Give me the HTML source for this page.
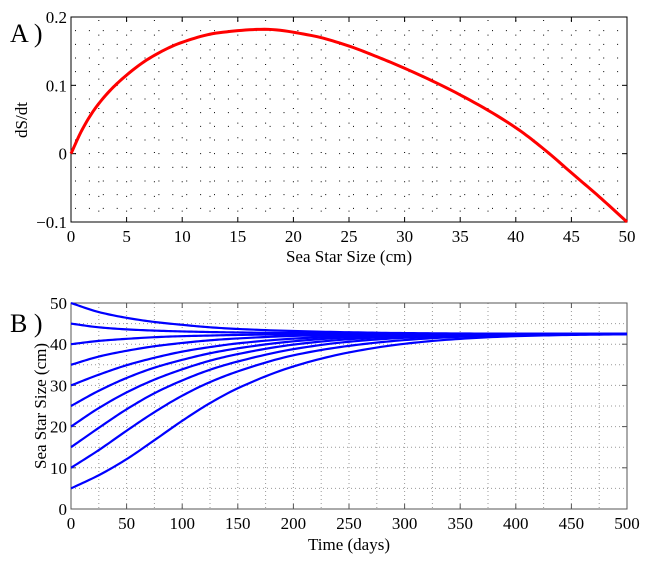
<!DOCTYPE html>
<html><head><meta charset="utf-8"><style>
body{margin:0;background:#fff}
svg text{font-family:"Liberation Serif",serif;fill:#000}
</style></head><body>
<svg id="c" width="645" height="558" xmlns="http://www.w3.org/2000/svg">
<text x="10" y="42" font-size="26">A )</text>
<text x="10" y="332" font-size="26">B )</text>
<g id="A"></g><g id="B"></g>
</svg>
<script>
// Panel A data
const aSize=[0,1,2.3,4.3,7.3,10,13.3,17.4,21.6,24.9,27.8,30,35,40,42.8,45,47.5,50];
const aRate=[0,0.035,0.069,0.105,0.142,0.163,0.177,0.182,0.173,0.158,0.140,0.125,0.086,0.038,0.003,-0.028,-0.063,-0.100];
const aXTicks=[0,5,10,15,20,25,30,35,40,45,50];
const aYTicks=[-0.1,0,0.1,0.2];
// Panel B data
const bTime=[0,25,50,75,100,125,150,200,250,300,350,400,450,500];
const bS5=[5,8.2,12.1,16.7,21.4,25.7,29.3,34.6,38.0,40.1,41.3,41.95,42.25,42.4];
const bS10=[10,14.3,19.0,23.5,27.5,30.8,33.4,37.3,39.6,41.0,41.8,42.2,42.37,42.45];
const bS15=[15,19.7,24.2,28.1,31.2,33.8,35.8,38.8,40.6,41.55,42.05,42.3,42.42,42.47];
const bS20=[20,24.5,28.3,31.4,33.9,36.0,37.6,39.9,41.2,41.9,42.2,42.38,42.45,42.48];
const bS25=[25,28.7,31.8,34.3,36.2,37.8,39.0,40.7,41.65,42.1,42.32,42.43,42.47,42.49];
const bS30=[30,32.6,34.9,36.7,38.2,39.3,40.2,41.35,41.97,42.27,42.41,42.46,42.49,42.5];
const bS35=[35,37.0,38.4,39.5,40.3,40.95,41.4,42.0,42.28,42.42,42.47,42.49,42.5,42.5];
const bS40=[40,40.8,41.3,41.7,41.95,42.1,42.25,42.4,42.46,42.49,42.5,42.5,42.5,42.5];
const bS45=[45,44.1,43.6,43.3,43.1,42.95,42.85,42.7,42.6,42.55,42.52,42.51,42.5,42.5];
const bS50=[50,47.8,46.4,45.4,44.7,44.1,43.7,43.2,42.9,42.7,42.6,42.55,42.52,42.5];
const bSeries=[bS5,bS10,bS15,bS20,bS25,bS30,bS35,bS40,bS45,bS50];
const bXTicks=[0,50,100,150,200,250,300,350,400,450,500];
const bYTicks=[0,10,20,30,40,50];

const NS="http://www.w3.org/2000/svg";
function mk(p,t,at){const e=document.createElementNS(NS,t);for(const k in at)e.setAttribute(k,at[k]);p.appendChild(e);return e;}
// monotone-cubic (Fritsch-Carlson) path in data space, mapped via sx/sy
function mpath(xs,ys,sx,sy){
 const n=xs.length,d=[],m=new Array(n);
 for(let i=0;i<n-1;i++)d.push((ys[i+1]-ys[i])/(xs[i+1]-xs[i]));
 m[0]=d[0];m[n-1]=d[n-2];
 for(let i=1;i<n-1;i++){if(d[i-1]*d[i]<=0)m[i]=0;else{const h0=xs[i]-xs[i-1],h1=xs[i+1]-xs[i];
  m[i]=3*(h0+h1)/((2*h1+h0)/d[i-1]+(h1+2*h0)/d[i]);}}
 let s="M"+sx(xs[0]).toFixed(2)+","+sy(ys[0]).toFixed(2);
 for(let i=0;i<n-1;i++){const h=xs[i+1]-xs[i];
  for(let k=1;k<=12;k++){const t=k/12,t2=t*t,t3=t2*t;
   const y=(2*t3-3*t2+1)*ys[i]+(t3-2*t2+t)*h*m[i]+(-2*t3+3*t2)*ys[i+1]+(t3-t2)*h*m[i+1];
   s+="L"+sx(xs[i]+t*h).toFixed(2)+","+sy(y).toFixed(2);}}
 return s;}

// ---- Panel A
const A=document.getElementById('A');
const aL=71,aR=627,aT=17,aB=222;
const ax=v=>aL+(v-0)/50*(aR-aL), ay=v=>aB-(v+0.1)/0.3*(aB-aT);
for(let v=2.5;v<50;v+=2.5){const l=mk(A,'line',{x1:ax(v),x2:ax(v),y1:aT+3,y2:aB,stroke:'#000','stroke-width':1,'stroke-dasharray':'1,13.66'});

}
for(let v=-0.08;v<0.2;v+=0.02){const l=mk(A,'line',{x1:aL+4,x2:aR,y1:ay(v),y2:ay(v),stroke:'#000','stroke-width':1,'stroke-dasharray':'1,12.9'});

}
const aBox=mk(A,'rect',{x:aL,y:aT,width:aR-aL,height:aB-aT,fill:'none',stroke:'#000','stroke-width':1});


aXTicks.forEach(v=>{mk(A,'line',{x1:ax(v),x2:ax(v),y1:aB,y2:aB-5,stroke:'#000'});mk(A,'line',{x1:ax(v),x2:ax(v),y1:aT,y2:aT+5,stroke:'#000'});
 const t=mk(A,'text',{x:ax(v),y:aB+20,'font-size':17,'text-anchor':'middle'});t.textContent=v;
 
 });
aYTicks.forEach(v=>{mk(A,'line',{x1:aL,x2:aL+5,y1:ay(v),y2:ay(v),stroke:'#000'});mk(A,'line',{x1:aR,x2:aR-5,y1:ay(v),y2:ay(v),stroke:'#000'});
 const t=mk(A,'text',{x:aL-4,y:ay(v)+6,'font-size':17,'text-anchor':'end'});t.textContent=(v<0?'\u22120.1':(v===0?'0':v));
 
 });
const aLine=mk(A,'path',{d:mpath(aSize,aRate,ax,ay),fill:'none',stroke:'#f00','stroke-width':3});


const axl=mk(A,'text',{x:(aL+aR)/2,y:262,'font-size':17,'text-anchor':'middle'});axl.textContent='Sea Star Size (cm)';


const ayl=mk(A,'text',{x:0,y:0,'font-size':17,'text-anchor':'middle',transform:'translate(27,120) rotate(-90)'});ayl.textContent='dS/dt';



// ---- Panel B
const B=document.getElementById('B');
const bL=71,bR=627,bT=303,bB=509;
const bx=v=>bL+v/500*(bR-bL), by=v=>bB-v/50*(bB-bT);
for(let v=25;v<500;v+=25){const l=mk(B,'line',{x1:bx(v),x2:bx(v),y1:bT,y2:bB,stroke:'#999','stroke-width':1,'stroke-dasharray':'1,3'});

}
for(let v=5;v<50;v+=5){const l=mk(B,'line',{x1:bL,x2:bR,y1:by(v),y2:by(v),stroke:'#999','stroke-width':1,'stroke-dasharray':'1,3'});

}
const bBox=mk(B,'rect',{x:bL,y:bT,width:bR-bL,height:bB-bT,fill:'none',stroke:'#555','stroke-width':1});


bXTicks.forEach(v=>{mk(B,'line',{x1:bx(v),x2:bx(v),y1:bB,y2:bB-5,stroke:'#555'});mk(B,'line',{x1:bx(v),x2:bx(v),y1:bT,y2:bT+5,stroke:'#555'});
 const t=mk(B,'text',{x:bx(v),y:bB+20,'font-size':17,'text-anchor':'middle'});t.textContent=v;
 
 });
bYTicks.forEach(v=>{mk(B,'line',{x1:bL,x2:bL+5,y1:by(v),y2:by(v),stroke:'#555'});mk(B,'line',{x1:bR,x2:bR-5,y1:by(v),y2:by(v),stroke:'#555'});
 const t=mk(B,'text',{x:bL-4,y:by(v)+6,'font-size':17,'text-anchor':'end'});t.textContent=v;
 
 });
bSeries.forEach(s=>{const p=mk(B,'path',{d:mpath(bTime,s,bx,by),fill:'none',stroke:'#00f','stroke-width':2.2});
 
 });
const bxl=mk(B,'text',{x:(bL+bR)/2,y:550,'font-size':17,'text-anchor':'middle'});bxl.textContent='Time (days)';


const byl=mk(B,'text',{x:0,y:0,'font-size':17,'text-anchor':'middle',transform:'translate(46,406) rotate(-90)'});byl.textContent='Sea Star Size (cm)';


</script>
</body></html>
